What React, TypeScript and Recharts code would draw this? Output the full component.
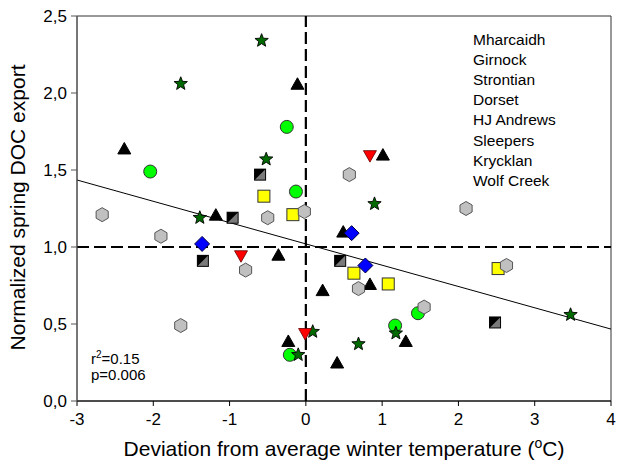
import React from 'react';
import { ScatterChart, Scatter, XAxis, YAxis, ReferenceLine, ReferenceArea, Legend } from 'recharts';

const siteNames = ['Mharcaidh', 'Girnock', 'Strontian', 'Dorset', 'HJ Andrews', 'Sleepers', 'Krycklan', 'Wolf Creek'];

const mharcaidh = [
  { x: -0.11, y: 2.06 }, { x: -2.38, y: 1.64 }, { x: 1.01, y: 1.6 }, { x: -1.18, y: 1.21 },
  { x: 0.49, y: 1.1 }, { x: -0.36, y: 0.95 }, { x: 0.22, y: 0.72 }, { x: 0.84, y: 0.76 },
  { x: -0.23, y: 0.39 }, { x: 0.41, y: 0.25 }, { x: 1.31, y: 0.39 },
];
const girnock = [
  { x: -0.25, y: 1.78 }, { x: -2.04, y: 1.49 }, { x: -0.13, y: 1.36 },
  { x: 1.47, y: 0.57 }, { x: 1.17, y: 0.49 }, { x: -0.21, y: 0.3 },
];
const strontian = [
  { x: -0.58, y: 2.34 }, { x: -1.64, y: 2.06 }, { x: -0.52, y: 1.57 }, { x: -1.39, y: 1.19 },
  { x: 0.9, y: 1.28 }, { x: 0.09, y: 0.45 }, { x: -0.1, y: 0.3 }, { x: 0.69, y: 0.37 },
  { x: 1.18, y: 0.44 }, { x: 3.47, y: 0.56 },
];
const dorset = [
  { x: -0.6, y: 1.47 }, { x: -0.96, y: 1.19 }, { x: -1.35, y: 0.91 }, { x: 0.45, y: 0.91 }, { x: 2.48, y: 0.51 },
];
const hjAndrews = [
  { x: 0.84, y: 1.59 }, { x: -0.85, y: 0.94 }, { x: -0.01, y: 0.435 },
];
const sleepers = [
  { x: -0.55, y: 1.33 }, { x: -0.17, y: 1.21 }, { x: 0.63, y: 0.83 }, { x: 1.08, y: 0.76 }, { x: 2.52, y: 0.86 },
];
const krycklan = [
  { x: 0.57, y: 1.47 }, { x: -2.67, y: 1.21 }, { x: -0.5, y: 1.19 }, { x: -0.02, y: 1.23 },
  { x: -1.9, y: 1.07 }, { x: -0.79, y: 0.85 }, { x: -1.64, y: 0.49 }, { x: 2.1, y: 1.25 },
  { x: 0.69, y: 0.73 }, { x: 2.63, y: 0.88 }, { x: 1.55, y: 0.61 },
];
const wolfCreek = [
  { x: -1.36, y: 1.02 }, { x: 0.6, y: 1.09 }, { x: 0.78, y: 0.88 },
];

const regression = [{ x: -3, y: 1.435 }, { x: 4, y: 0.467 }];
const xTicks = [-3, -2, -1, 0, 1, 2, 3, 4];
const yTicks = [0, 0.5, 1, 1.5, 2, 2.5];
const rSquared = '0.15';
const pValue = '0.006';

const FONT = '"Liberation Sans", Arial, Helvetica, sans-serif';

const pts = (arr: number[][]) => arr.map((p) => p.join(',')).join(' ');

const TriangleUp = (p: any) => {
  const { cx, cy } = p;
  return <polygon points={pts([[cx, cy - 6], [cx + 6.5, cy + 5.5], [cx - 6.5, cy + 5.5]])} fill="#000" stroke="#000" strokeWidth={1} />;
};
const TriangleDown = (p: any) => {
  const { cx, cy } = p;
  return <polygon points={pts([[cx - 6.5, cy - 5.5], [cx + 6.5, cy - 5.5], [cx, cy + 6]])} fill="#ff0000" stroke="#600" strokeWidth={0.8} />;
};
const CircleShape = (p: any) => <circle cx={p.cx} cy={p.cy} r={6.5} fill="#00ff00" stroke="#333" strokeWidth={1} />;
const StarShape = (p: any) => {
  const { cx, cy } = p;
  const list: number[][] = [];
  for (let i = 0; i < 10; i++) {
    const a = (-90 + i * 36) * Math.PI / 180;
    const r = i % 2 === 0 ? 7 : 3;
    list.push([cx + r * Math.cos(a), cy + r * Math.sin(a)]);
  }
  return <polygon points={pts(list)} fill="#006a00" stroke="#000" strokeWidth={0.9} />;
};
const DorsetShape = (p: any) => {
  const { cx, cy } = p;
  const h = 5.5;
  return (
    <g>
      <rect x={cx - h} y={cy - h} width={2 * h} height={2 * h} fill="#7a7a7a" stroke="#000" strokeWidth={1} />
      <polygon points={pts([[cx - h, cy - h], [cx + h, cy - h], [cx - h, cy + h]])} fill="#000" />
    </g>
  );
};
const SquareShape = (p: any) => <rect x={p.cx - 6} y={p.cy - 6} width={12} height={12} fill="#ffff00" stroke="#333" strokeWidth={1} />;
const HexShape = (p: any) => {
  const { cx, cy } = p;
  const list: number[][] = [];
  for (let i = 0; i < 6; i++) {
    const a = (-90 + i * 60) * Math.PI / 180;
    list.push([cx + 7 * Math.cos(a), cy + 7 * Math.sin(a)]);
  }
  return <polygon points={pts(list)} fill="#c0c0c0" stroke="#555" strokeWidth={1} />;
};
const DiamondShape = (p: any) => {
  const { cx, cy } = p;
  return <polygon points={pts([[cx, cy - 7.5], [cx + 7.5, cy], [cx, cy + 7.5], [cx - 7.5, cy]])} fill="#0000ff" stroke="#000040" strokeWidth={1} />;
};

const fmtY = (v: number) => v.toFixed(1).replace('.', ',');

const XTitle = (props: any) => {
  const vb = props.viewBox || {};
  const cx = vb.x + vb.width / 2;
  return (
    <text x={cx} y={456} textAnchor="middle" fontFamily={FONT} fontSize={21} fill="#000">
      Deviation from average winter temperature (<tspan fontSize={14} dy={-8}>o</tspan><tspan dy={8}>C)</tspan>
    </text>
  );
};
const YTitle = () => (
  <text x={0} y={0} transform={`translate(24.5, 207.5) rotate(-90)`} textAnchor="middle" fontFamily={FONT} fontSize={21} fill="#000">
    Normalized spring DOC export
  </text>
);

const LegendContent = () => (
  <div style={{ fontFamily: FONT, fontSize: 15.5, lineHeight: '20.2px', color: '#000', textAlign: 'left' }}>
    {siteNames.map((n) => (
      <div key={n}>{n}</div>
    ))}
  </div>
);

export default function App() {
  return (
    <div style={{ position: 'absolute', left: 0, top: 0, width: 617, height: 463, background: '#fff' }}>
      <ScatterChart width={617} height={463} margin={{ top: 16, right: 6, bottom: 0, left: 0 }}>
        <XAxis
          type="number"
          dataKey="x"
          domain={[-3, 4]}
          ticks={xTicks}
          allowDataOverflow
          height={62}
          tickSize={5}
          tickMargin={7}
          stroke="#000"
          tick={{ fill: '#000', fontSize: 17, fontFamily: FONT }}
          label={<XTitle />}
        />
        <YAxis
          type="number"
          dataKey="y"
          domain={[0, 2.5]}
          ticks={yTicks}
          allowDataOverflow
          width={77}
          tickSize={6}
          tickMargin={4}
          stroke="#555"
          tickFormatter={fmtY}
          tick={{ fill: '#000', fontSize: 17, fontFamily: FONT }}
          label={<YTitle />}
        />
        <ReferenceArea x1={-3} x2={4} y1={0} y2={2.5} fill="none" fillOpacity={0} stroke="#333" strokeWidth={1} />
        <ReferenceLine x={0} stroke="#000" strokeWidth={2.2} strokeDasharray="12 5" />
        <ReferenceLine y={1} stroke="#000" strokeWidth={2.2} strokeDasharray="12 5" />
        <ReferenceLine segment={regression} stroke="#000" strokeWidth={1} />
        <Scatter name={siteNames[0]} data={mharcaidh} shape={TriangleUp} isAnimationActive={false} />
        <Scatter name={siteNames[1]} data={girnock} shape={CircleShape} isAnimationActive={false} />
        <Scatter name={siteNames[2]} data={strontian} shape={StarShape} isAnimationActive={false} />
        <Scatter name={siteNames[3]} data={dorset} shape={DorsetShape} isAnimationActive={false} />
        <Scatter name={siteNames[4]} data={hjAndrews} shape={TriangleDown} isAnimationActive={false} />
        <Scatter name={siteNames[5]} data={sleepers} shape={SquareShape} isAnimationActive={false} />
        <Scatter name={siteNames[6]} data={krycklan} shape={HexShape} isAnimationActive={false} />
        <Scatter name={siteNames[7]} data={wolfCreek} shape={DiamondShape} isAnimationActive={false} />
        <Legend
          layout="horizontal"
          verticalAlign="middle"
          align="center"
          wrapperStyle={{ left: 473, top: 29.5, width: 140, height: 170 }}
          content={<LegendContent />}
        />
      </ScatterChart>
      <div style={{ position: 'absolute', left: 91, top: 351, fontFamily: FONT, fontSize: 15, lineHeight: '16px', color: '#000' }}>
        <div>r<sup style={{ fontSize: 10, verticalAlign: 'super', lineHeight: 0 }}>2</sup>={rSquared}</div>
        <div>p={pValue}</div>
      </div>
    </div>
  );
}
